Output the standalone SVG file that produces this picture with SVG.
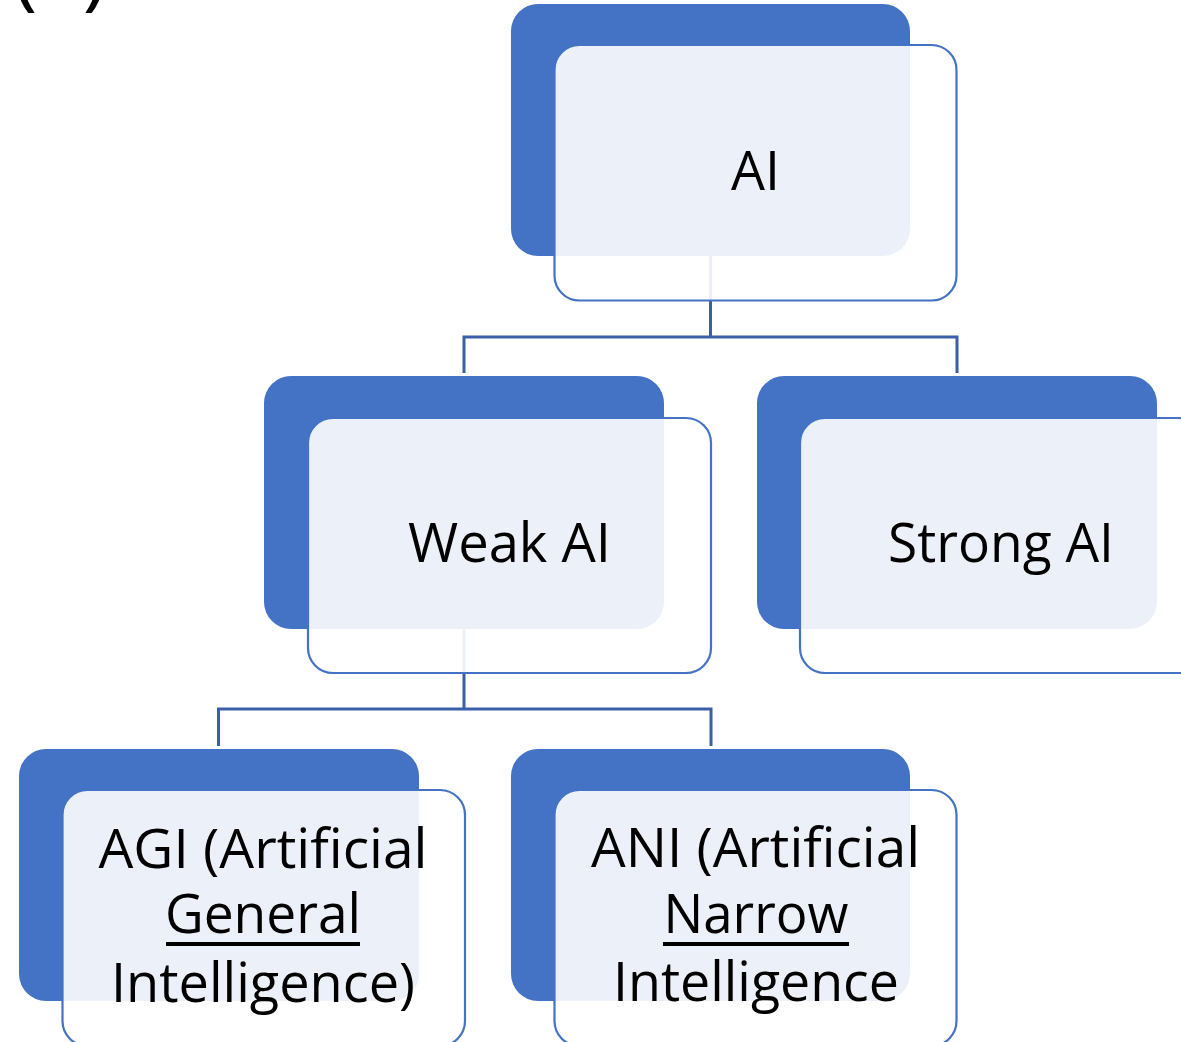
<svg xmlns="http://www.w3.org/2000/svg" width="1181" height="1042" viewBox="0 0 1181 1042">
  <style>
    .back { fill: #4472C4; }
    .front { fill: #ffffff; fill-opacity: 0.9; stroke: #4472C4; stroke-width: 2.2; }
    .lbl { font-family: "Open Sans", "Noto Sans", "Liberation Sans", sans-serif; font-size: 55px; fill: #000000; text-anchor: middle; }
    .conn { fill: none; stroke: #3A5FA8; stroke-width: 3; }
    .uline { stroke: #000000; stroke-width: 4; }
  </style>
  <rect x="0" y="0" width="1181" height="1042" fill="#ffffff"/>

  <!-- figure tag, mostly above the top edge -->
  <text class="lbl" x="60" y="-1.5" style="font-size:86px" textLength="94" lengthAdjust="spacingAndGlyphs">(a)</text>

  <!-- tree connectors -->
  <g id="connectors">
    <path class="conn" d="M710.5 256 V337 M464 373 V337 H957 V373"/>
    <path class="conn" d="M464 629 V709 M218.5 746 V709 H711 V746"/>
  </g>

  <g id="node-ai">
    <rect class="back" x="511" y="4" width="399" height="252" rx="27"/>
    <rect class="front" x="554.5" y="45" width="402" height="255.5" rx="25"/>
    <text class="lbl" x="755.5" y="190" textLength="49" lengthAdjust="spacingAndGlyphs">AI</text>
  </g>

  <g id="node-weak-ai">
    <rect class="back" x="264" y="376" width="400" height="253" rx="27"/>
    <rect class="front" x="308" y="418" width="403" height="255" rx="25"/>
    <text class="lbl" x="509.5" y="562" textLength="203" lengthAdjust="spacingAndGlyphs">Weak AI</text>
  </g>

  <g id="node-strong-ai">
    <rect class="back" x="757" y="376" width="400" height="253" rx="27"/>
    <rect class="front" x="800" y="418" width="403" height="255" rx="25"/>
    <text class="lbl" x="1001" y="562" textLength="226" lengthAdjust="spacingAndGlyphs">Strong AI</text>
  </g>

  <g id="node-agi">
    <rect class="back" x="19" y="749" width="400" height="252" rx="27"/>
    <rect class="front" x="62.5" y="790" width="402.5" height="256" rx="25"/>
    <text class="lbl" x="263" y="867.5" textLength="329" lengthAdjust="spacingAndGlyphs">AGI (Artificial</text>
    <text class="lbl" x="263" y="933" textLength="196" lengthAdjust="spacingAndGlyphs">General</text>
    <line class="uline" x1="166" y1="944" x2="360" y2="944"/>
    <text class="lbl" x="263" y="1001.5" textLength="304" lengthAdjust="spacingAndGlyphs">Intelligence)</text>
  </g>

  <g id="node-ani">
    <rect class="back" x="511" y="749" width="399" height="252" rx="27"/>
    <rect class="front" x="554.5" y="790" width="402" height="256" rx="25"/>
    <text class="lbl" x="755.5" y="867" textLength="329" lengthAdjust="spacingAndGlyphs">ANI (Artificial</text>
    <text class="lbl" x="756" y="933" textLength="185" lengthAdjust="spacingAndGlyphs">Narrow</text>
    <line class="uline" x1="663" y1="944" x2="849" y2="944"/>
    <text class="lbl" x="756" y="1001" textLength="286" lengthAdjust="spacingAndGlyphs">Intelligence</text>
  </g>
</svg>
